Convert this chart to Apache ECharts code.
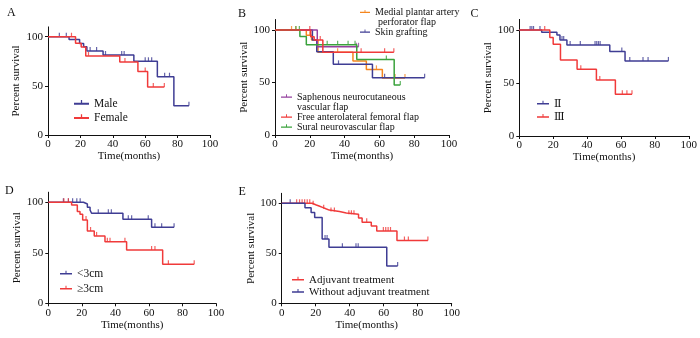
<!DOCTYPE html>
<html>
<head>
<meta charset="utf-8">
<script src="https://cdn.jsdelivr.net/npm/echarts@6/dist/echarts.min.js"></script>
<style>html,body{margin:0;padding:0;background:#fff}#c{width:700px;height:338px}</style>
</head>
<body>
<div id="c"></div>
<script>
// ---------- Data (time in months, percent survival) ----------
const xTicks = [0, 20, 40, 60, 80, 100];
const yTicks = [0, 50, 100];

// Panel A
const maleSteps = [[0,100],[13,97.3],[19.5,93.2],[22,89.8],[24,85.6],[34,81.4],[53,75],[67.5,59.3],[77.7,29.7],[87,29.7]];
const maleCensor = [[7,100],[11.3,100],[26,85.6],[30,85.6],[35.5,81.4],[45.5,81.4],[47,81.4],[60,75],[62,75],[64,75],[72,59.3],[75,59.3],[87,29.7]];
const femaleSteps = [[0,100],[17,93.3],[20.5,89.5],[23.3,80.5],[44.3,74.3],[55.5,64.7],[61.5,48.8],[71.8,48.8]];
const femaleCensor = [[14.5,100],[25,80.5],[47.5,74.3],[60,64.7],[65,48.8],[71.8,48.8]];

// Panel B
const medialSteps = [[0,100],[18,95],[21,90.5],[24.7,78.7],[44.8,70.5],[52.5,62.5],[61.7,54.3],[74.7,54.3]];
const medialCensor = [[9.5,100],[12,100],[20,95],[36,78.7],[58.3,62.5],[69,54.3],[74.7,54.3]];
const skinSteps = [[0,100],[21.5,90.5],[24,79.4],[33.5,67.3],[56,54.6],[86,54.6]];
const skinCensor = [[36.5,67.3],[63,54.6],[86,54.6]];
const saphSteps = [[0,100],[24.3,84],[48,84]];
const saphCensor = [[46.7,84],[48,84]];
const freeSteps = [[0,100],[20.5,93.6],[22.5,90.5],[27.5,78.7],[68.3,78.7]];
const freeCensor = [[20,100],[26,90.5],[49.5,78.7],[63,78.7],[68.3,78.7]];
const suralSteps = [[0,100],[14.3,93.7],[18,86],[47,71.8],[68.5,47.6],[72,47.6]];
const suralCensor = [[12,100],[14,100],[30,86],[36,86],[42,86],[46,86],[64,71.8],[72,47.6]];

// Panel C
const iiSteps = [[0,100],[13.2,97.8],[22.2,95.3],[24,90.6],[28.1,85.8],[53.4,79.8],[62.4,70.8],[88,70.8]];
const iiCensor = [[6.4,100],[7.4,100],[8.4,100],[12.2,100],[25.2,90.6],[26.2,90.6],[30,85.8],[36,85.8],[44.7,85.8],[45.7,85.8],[46.7,85.8],[47.7,85.8],[60.5,79.8],[65.2,70.8],[73,70.8],[76,70.8],[88,70.8]];
const iiiSteps = [[0,100],[18,93],[20,86.5],[24.3,71.7],[34.1,62.9],[45.5,52.8],[56.7,39.3],[66.5,39.3]];
const iiiCensor = [[15,100],[36.3,62.9],[47.5,52.8],[60.8,39.3],[63.5,39.3],[66.5,39.3]];

// Panel D
const ltSteps = [[0,100],[21,98.3],[23.3,95],[24.9,92.4],[25.8,89.1],[44.5,83.3],[61.6,75.2],[75,75.2]];
const ltCensor = [[9,100],[12,100],[14.5,100],[17,100],[19,100],[29.8,89.1],[35.8,89.1],[37.6,89.1],[47.7,83.3],[49.7,83.3],[59.6,83.3],[63.6,75.2],[67.6,75.2],[75,75.2]];
const geSteps = [[0,100],[13.9,97.4],[17.3,90.8],[18.9,88.1],[20.5,82.5],[23.3,71.6],[27.4,66.7],[33.8,61],[46.7,52.8],[68.2,38.6],[87,38.6]];
const geCensor = [[9.3,100],[12,100],[22.5,82.5],[25.2,71.6],[28.8,66.7],[35.2,61],[36.8,61],[45.7,61],[61.6,52.8],[63.6,52.8],[71.6,38.6],[87,38.6]];

// Panel E
const adjSteps = [[0,100],[18,98.6],[20,97.3],[22,95.9],[24,94.5],[26,93.2],[28,91.8],[34,90.4],[38,89],[45.2,85.2],[47.3,81.1],[52.7,77.3],[55.9,72.3],[67.8,62.8],[86,62.8]];
const adjCensor = [[8.8,100],[10.5,100],[12,100],[13.5,100],[15,100],[16.5,100],[18.5,98.6],[24.7,94.5],[29,91.8],[31,91.8],[39.5,89],[41,89],[42.5,89],[50,81.1],[59.8,72.3],[61.2,72.3],[62.6,72.3],[64,72.3],[72.2,62.8],[74.5,62.8],[86,62.8]];
const woSteps = [[0,100],[13.7,95.5],[17.3,90.7],[19.4,85.7],[23.8,64.3],[27.8,56.1],[61.8,37.3],[68.2,37.3]];
const woCensor = [[5,100],[25.5,64.3],[26.7,64.3],[35.7,56.1],[43.7,56.1],[45,56.1],[68.2,37.3]];

// ---------- Style ----------
const FONT = '"Liberation Serif", "Times New Roman", serif';
const ROMAN_FONT = '"DejaVu Serif", "Liberation Serif", serif';
const BLUE = '#3f3d94', RED = '#f03a3a', ORANGE = '#f5861f', GREEN = '#3aa23c', PURPLE = '#94409e';
const ICON = 'path://M0,5.5h24v3h-24z M11,1h2v5h-2z M0,13.99h0.01v0.01h-0.01z';

const panels = [
  {grid:{left:48,top:26.9,width:162,height:108.1}, yGap:26.5, letter:'A', lx:7, ly:13},
  {grid:{left:275,top:19.5,width:174,height:115.5}, yGap:21.5, letter:'B', lx:238, ly:13.5},
  {grid:{left:519.3,top:19.4,width:170,height:116.6}, yGap:21, letter:'C', lx:470.5, ly:13.5},
  {grid:{left:48.3,top:192.2,width:167.7,height:111.1}, yGap:19.5, letter:'D', lx:5, ly:190.5},
  {grid:{left:281.7,top:193.3,width:170,height:110}, yGap:20, letter:'E', lx:238.5, ly:191.5}
];

const curves = [
  {p:0, name:'Male', steps:maleSteps, censor:maleCensor, color:BLUE},
  {p:0, name:'Female', steps:femaleSteps, censor:femaleCensor, color:RED},
  {p:1, name:'Medial plantar artery perforator flap', steps:medialSteps, censor:medialCensor, color:ORANGE},
  {p:1, name:'Skin grafting', steps:skinSteps, censor:skinCensor, color:BLUE},
  {p:1, name:'Saphenous neurocutaneous vascular flap', steps:saphSteps, censor:saphCensor, color:PURPLE},
  {p:1, name:'Sural neurovascular flap', steps:suralSteps, censor:suralCensor, color:GREEN},
  {p:1, name:'Free anterolateral femoral flap', steps:freeSteps, censor:freeCensor, color:RED},
  {p:2, name:'\u2161', steps:iiSteps, censor:iiCensor, color:BLUE},
  {p:2, name:'\u2162', steps:iiiSteps, censor:iiiCensor, color:RED},
  {p:3, name:'<3cm', steps:ltSteps, censor:ltCensor, color:BLUE},
  {p:3, name:'\u22653cm', steps:geSteps, censor:geCensor, color:RED},
  {p:4, name:'Adjuvant treatment', steps:adjSteps, censor:adjCensor, color:RED},
  {p:4, name:'Without adjuvant treatment', steps:woSteps, censor:woCensor, color:BLUE}
];

// legend placements: [name, left, centerY, fontSize, iconWidth, displayText, font]
const legendPos = [
  ['Male', 74, 104, 11.5, 15, null, FONT],
  ['Female', 74, 118.3, 11.5, 15, null, FONT],
  ['Medial plantar artery perforator flap', 360, 12.7, 10, 10, 'Medial plantar artery', FONT],
  ['Skin grafting', 360, 32.3, 10, 10, null, FONT],
  ['Saphenous neurocutaneous vascular flap', 281, 97.3, 10, 11, 'Saphenous neurocutaneous', FONT],
  ['Free anterolateral femoral flap', 281, 117.3, 10, 11, null, FONT],
  ['Sural neurovascular flap', 281, 127.3, 10, 11, null, FONT],
  ['\u2161', 537, 104, 11, 12, null, ROMAN_FONT],
  ['\u2162', 537, 117.3, 11, 12, null, ROMAN_FONT],
  ['<3cm', 60, 274, 11.5, 12, null, FONT],
  ['\u22653cm', 60, 289, 11.5, 12, null, FONT],
  ['Adjuvant treatment', 292, 280, 11, 12, null, FONT],
  ['Without adjuvant treatment', 292, 292.3, 11, 12, null, FONT]
];

const extraTexts = [
  ['perforator flap', 378, 22.7, 10],
  ['vascular flap', 297, 107.3, 10]
];

// ---------- Build option ----------
const grid = panels.map(p => Object.assign({containLabel:false}, p.grid));
const xAxis = panels.map((p, i) => ({
  type:'value', gridIndex:i, min:0, max:100, interval:20,
  name:'Time(months)', nameLocation:'middle', nameGap:16,
  nameTextStyle:{fontFamily:FONT, fontSize:11, color:'#111'},
  axisLine:{lineStyle:{color:'#111', width:1}},
  axisTick:{length:3, lineStyle:{color:'#111'}},
  axisLabel:{fontFamily:FONT, fontSize:11, color:'#111', margin:4},
  splitLine:{show:false}
}));
const yAxis = panels.map((p, i) => ({
  type:'value', gridIndex:i, min:0, max:110,
  name:'Percent survival', nameLocation:'middle', nameGap:p.yGap, nameRotate:90,
  nameTextStyle:{fontFamily:FONT, fontSize:11, color:'#111'},
  axisLine:{show:true, lineStyle:{color:'#111', width:1}},
  axisTick:{show:true, length:3, lineStyle:{color:'#111'}, customValues:yTicks},
  axisLabel:{fontFamily:FONT, fontSize:11, color:'#111', margin:5, customValues:yTicks},
  splitLine:{show:false}
}));

const series = [];
curves.forEach(c => {
  series.push({
    type:'line', name:c.name, xAxisIndex:c.p, yAxisIndex:c.p, data:c.steps, step:'end',
    symbol:'none', lineStyle:{color:c.color, width:1.5}, itemStyle:{color:c.color}, silent:true
  });
  series.push({
    type:'scatter', name:c.name, xAxisIndex:c.p, yAxisIndex:c.p, data:c.censor,
    symbol:'rect', symbolSize:[1.2,4], symbolOffset:[0,-2], itemStyle:{color:c.color}, silent:true
  });
});

const legend = legendPos.map(([name, left, cy, fs, iw, disp, ff]) => ({
  data:[{name:name, icon:ICON}], left:left, top:cy - 6, orient:'vertical',
  itemWidth:iw, itemHeight:10.5, padding:0, selectedMode:false,
  formatter: disp ? (() => disp) : (n => n),
  textStyle:{fontFamily:ff, fontSize:fs, color:'#111', lineHeight:12}
}));

const graphic = [];
panels.forEach(p => graphic.push({
  type:'text', left:p.lx, top:p.ly - 6,
  style:{text:p.letter, font:'12px ' + FONT, fill:'#111'}
}));
extraTexts.forEach(([t, x, cy, fs]) => graphic.push({
  type:'text', left:x, top:cy - 6,
  style:{text:t, font:fs + 'px ' + FONT, fill:'#111', lineHeight:12}
}));

const chart = echarts.init(document.getElementById('c'), null, {renderer:'canvas'});
chart.setOption({
  animation:false, backgroundColor:'#fff',
  grid, xAxis, yAxis, series, legend, graphic
});
</script>
</body>
</html>
